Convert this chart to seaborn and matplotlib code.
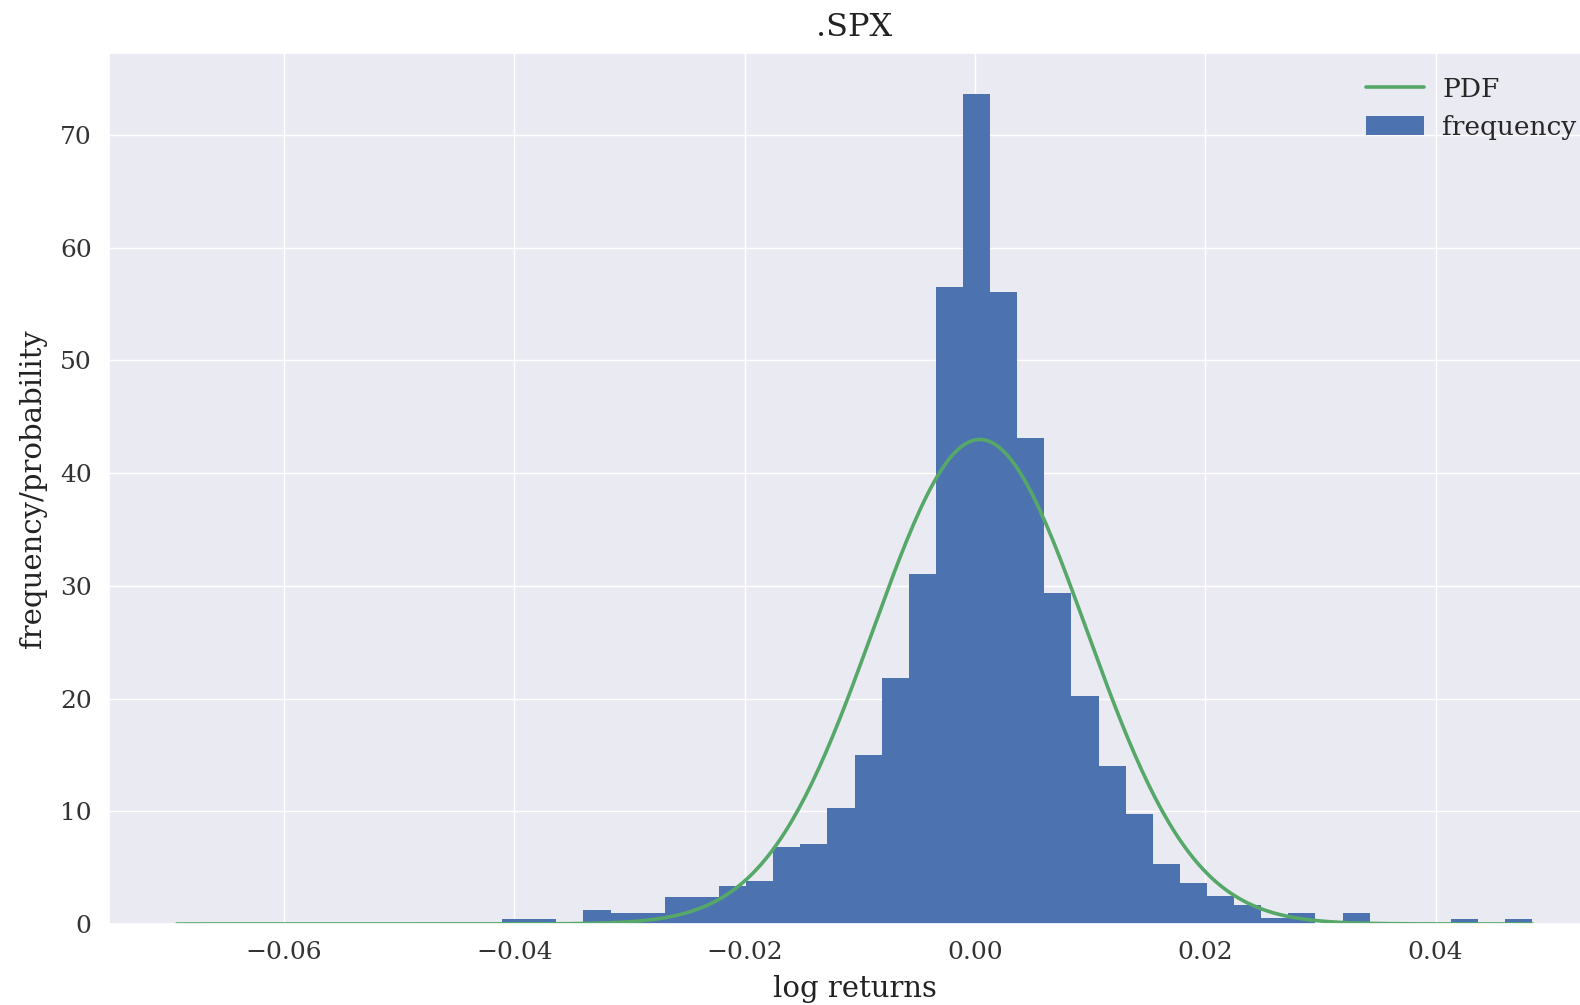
import numpy as np
import pandas as pd
import matplotlib
matplotlib.use("Agg")
import matplotlib.pyplot as plt
import seaborn as sns

# ---- data ----
bin_lo, bin_hi, n_bins = -0.0693, 0.0484, 50
freq_heights = [
    0, 0, 0, 0, 0, 0, 0, 0, 0, 0,          # bins 0-9
    0, 0, 0.45, 0.45, 0, 1.25, 0.95, 0.95, 2.4, 2.4,   # bins 10-19
    3.4, 3.8, 6.85, 7.1, 10.25, 15.0, 21.85, 31.05, 56.5, 73.6,  # 20-29
    56.1, 43.1, 29.4, 20.2, 14.0, 9.75, 5.3, 3.65, 2.45, 1.7,  # 30-39
    0.5, 0.95, 0, 0.95, 0, 0, 0, 0.45, 0, 0.45,  # 40-49
]
pdf_mean = 0.00043
pdf_std = 0.00928
title = ".SPX"
xlabel = "log returns"
ylabel = "frequency/probability"

# ---- build ----
edges = np.linspace(bin_lo, bin_hi, n_bins + 1)
centers = (edges[:-1] + edges[1:]) / 2
df = pd.DataFrame({"ret": centers, "h": freq_heights})

xs = np.linspace(bin_lo, bin_hi, 400)
pdf = np.exp(-0.5 * ((xs - pdf_mean) / pdf_std) ** 2) / (pdf_std * np.sqrt(2 * np.pi))

sns.set_theme(style="darkgrid")
plt.rcParams["font.family"] = ["DejaVu Serif"]

fig = plt.figure(figsize=(15.8, 10.05), dpi=100)
ax = fig.add_axes([0.069, 0.0806, 0.9437, 0.8667])

sns.histplot(data=df, x="ret", weights="h", bins=n_bins, binrange=(bin_lo, bin_hi),
             stat="count", color="#4C72B0", alpha=1.0, linewidth=0, ax=ax,
             label="frequency")
sns.lineplot(x=xs, y=pdf, color="#55A868", linewidth=2.6, ax=ax, label="PDF")

ax.set_ylim(0, max(freq_heights) * 1.05)
ax.set_xticks([-0.06, -0.04, -0.02, 0.0, 0.02, 0.04])
ax.set_yticks([0, 10, 20, 30, 40, 50, 60, 70])
ax.tick_params(labelsize=18, colors="#333333", pad=6.5)
ax.set_title(title, fontsize=23, color="#222222", pad=12)
ax.set_xlabel(xlabel, fontsize=21, color="#222222", labelpad=8)
ax.set_ylabel(ylabel, fontsize=21, color="#222222", labelpad=9)

h, l = ax.get_legend_handles_labels()
order = [l.index("PDF"), l.index("frequency")]
ax.legend([h[i] for i in order], [l[i] for i in order], loc="upper right",
          fontsize=19, frameon=False, handlelength=2.2, handletextpad=0.7)

fig.savefig("out.png", dpi=100)
